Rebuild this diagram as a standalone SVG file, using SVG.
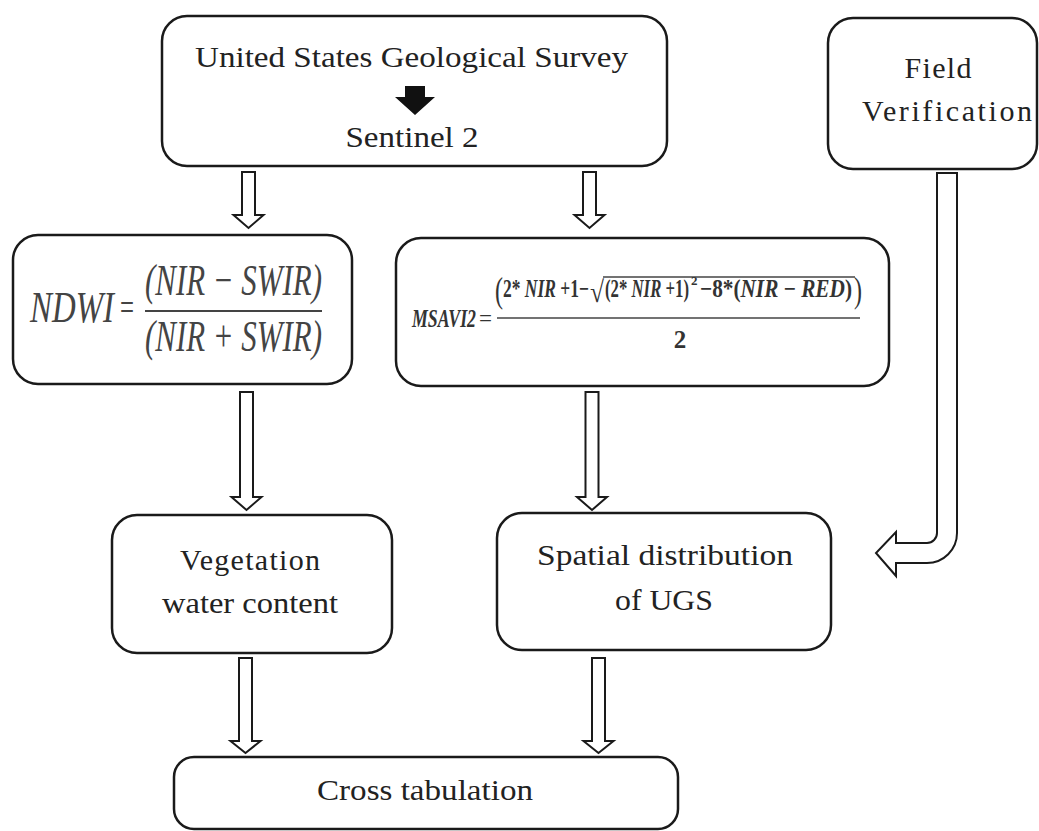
<svg xmlns="http://www.w3.org/2000/svg" width="1039" height="831" viewBox="0 0 1039 831">
<style>
.box{fill:#fff;stroke:#1a1a1a;stroke-width:2.5}
.harrow{fill:#fff;stroke:#1a1a1a;stroke-width:2;stroke-linejoin:miter}
.lbl{font-family:"Liberation Serif","Times New Roman",serif;font-size:30px;fill:#222;text-anchor:middle}
.m{font-family:"Liberation Serif","Times New Roman",serif;fill:#444}
.mi{font-style:italic}
.mb{font-family:"Liberation Serif","Times New Roman",serif;fill:#333}
.fl{stroke:#444;stroke-width:2}
</style>
<rect width="1039" height="831" fill="#fff"/>
<g id="usgs">
<rect class="box" x="162" y="16" width="505" height="150" rx="25"/>
<text class="lbl" x="411.5" y="67" textLength="433" lengthAdjust="spacingAndGlyphs">United States Geological Survey</text>
<polygon points="405,86 425,86 425,97 435,97 415,115 395,97 405,97" fill="#111"/>
<text class="lbl" x="412" y="147" textLength="133" lengthAdjust="spacingAndGlyphs">Sentinel 2</text>
</g>
<g id="field">
<rect class="box" x="828" y="18" width="209" height="151" rx="25"/>
<text class="lbl" x="938" y="78" textLength="67" lengthAdjust="spacing">Field</text>
<text class="lbl" x="947" y="121" textLength="170" lengthAdjust="spacing">Verification</text>
</g>
<g id="ndwi">
<rect class="box" x="13" y="235" width="339" height="149" rx="25"/>
<text class="m mi" x="30" y="322" style="font-size:45px" textLength="84" lengthAdjust="spacingAndGlyphs">NDWI</text>
<text class="m" x="120" y="321" style="font-size:40px" textLength="14" lengthAdjust="spacingAndGlyphs">=</text>
<text class="m mi" x="145" y="295" style="font-size:45px" textLength="177" lengthAdjust="spacingAndGlyphs">(NIR − SWIR)</text>
<line class="fl" x1="145" y1="311" x2="322" y2="311"/>
<text class="m mi" x="145" y="351" style="font-size:45px" textLength="177" lengthAdjust="spacingAndGlyphs">(NIR + SWIR)</text>
</g>
<g id="msavi">
<rect class="box" x="396" y="238" width="493" height="148" rx="25"/>
<text class="mb" x="412" y="327" style="font-size:25px;font-weight:bold;font-style:italic" textLength="64" lengthAdjust="spacingAndGlyphs">MSAVI2</text>
<text class="mb" x="479" y="326" style="font-size:24px" textLength="13" lengthAdjust="spacingAndGlyphs">=</text>
<text class="mb" x="495" y="302" style="font-size:36px" textLength="8" lengthAdjust="spacingAndGlyphs">(</text>
<text class="mb" x="503" y="297" style="font-size:25px;font-weight:bold" textLength="86" lengthAdjust="spacingAndGlyphs">2* <tspan font-style="italic">NIR</tspan> +1−</text>
<text class="mb" x="590" y="302" style="font-size:30px" textLength="14" lengthAdjust="spacingAndGlyphs">√</text>
<line x1="603" y1="277" x2="855" y2="277" stroke="#444" stroke-width="1.5"/>
<text class="mb" x="605" y="297" style="font-size:25px;font-weight:bold" textLength="84" lengthAdjust="spacingAndGlyphs">(2* <tspan font-style="italic">NIR</tspan> +1)</text>
<text class="mb" x="691" y="285" style="font-size:13px;font-weight:bold">2</text>
<text class="mb" x="700" y="297" style="font-size:25px;font-weight:bold" textLength="152" lengthAdjust="spacingAndGlyphs">−8*(<tspan font-style="italic">NIR</tspan> − <tspan font-style="italic">RED</tspan>)</text>
<text class="mb" x="854" y="302" style="font-size:36px" textLength="8" lengthAdjust="spacingAndGlyphs">)</text>
<line x1="497" y1="318" x2="860" y2="318" stroke="#444" stroke-width="1.5"/>
<text class="mb" x="680" y="348" text-anchor="middle" style="font-size:25px;font-weight:bold">2</text>
</g>
<g id="veg">
<rect class="box" x="112" y="515" width="280" height="138" rx="25"/>
<text class="lbl" x="250" y="570" textLength="140" lengthAdjust="spacing">Vegetation</text>
<text class="lbl" x="250" y="613" textLength="176" lengthAdjust="spacingAndGlyphs">water content</text>
</g>
<g id="spatial">
<rect class="box" x="497" y="513" width="334" height="137" rx="25"/>
<text class="lbl" x="665" y="565" textLength="256" lengthAdjust="spacingAndGlyphs">Spatial distribution</text>
<text class="lbl" x="664" y="610" textLength="98" lengthAdjust="spacingAndGlyphs">of UGS</text>
</g>
<g id="cross">
<rect class="box" x="174" y="757" width="504" height="72" rx="20"/>
<text class="lbl" x="425" y="800" textLength="216" lengthAdjust="spacingAndGlyphs">Cross tabulation</text>
</g>
<g id="connectors">
<polygon class="harrow" points="242,172 255,172 255,215 263.5,215 248.5,228 233.5,215 242,215"/>
<polygon class="harrow" points="583,172 596,172 596,215 604.5,215 589.5,228 574.5,215 583,215"/>
<polygon class="harrow" points="240,392 253,392 253,497 261.5,497 246.5,510 231.5,497 240,497"/>
<polygon class="harrow" points="585.5,392 598.5,392 598.5,497 607,497 592,510 577,497 585.5,497"/>
<polygon class="harrow" points="239,658 252,658 252,741 260.5,741 245.5,753 230.5,741 239,741"/>
<polygon class="harrow" points="592,658 605,658 605,741 613.5,741 598.5,753 583.5,741 592,741"/>
<path class="harrow" d="M937,173 L937,533 A10,10 0 0 1 927,543 L896,543 L896,532 L876,553 L896,576 L896,563 L927,563 A30,30 0 0 0 957,533 L957,173 Z"/>
</g>
</svg>
